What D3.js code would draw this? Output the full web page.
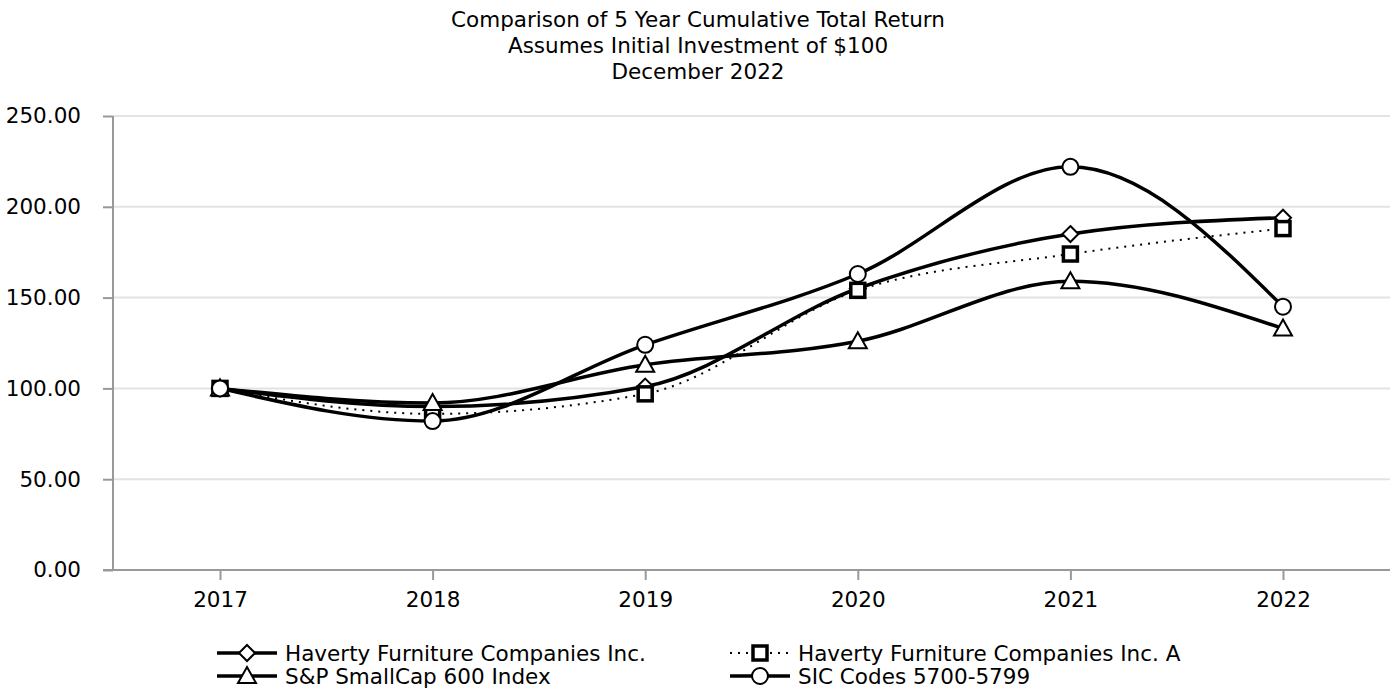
<!DOCTYPE html>
<html>
<head>
<meta charset="utf-8">
<script src="https://cdn.jsdelivr.net/npm/d3@7"></script>
<style>
  body { margin: 0; background: #fff; }
  text { font-family: "DejaVu Sans", Verdana, sans-serif; fill: #000; }
</style>
</head>
<body>
<script>
// chart values
var years = ["2017", "2018", "2019", "2020", "2021", "2022"];
var haverty = [100, 90, 101, 155, 185, 194];
var havertyA = [100, 86, 97, 154, 174, 188];
var smallcap = [100, 92, 113, 126, 159, 133];
var sicCodes = [100, 82, 124, 163, 222, 145];
var yTicks = [0, 50, 100, 150, 200, 250];
var titleLines = ["Comparison of 5 Year Cumulative Total Return",
                  "Assumes Initial Investment of $100",
                  "December 2022"];

var seriesNames = ["Haverty Furniture Companies Inc.", "Haverty Furniture Companies Inc. A",
                   "S&P SmallCap 600 Index", "SIC Codes 5700-5799"];
var seriesValues = [haverty, havertyA, smallcap, sicCodes];
var seriesMarker = ["diamond", "square", "triangle", "circle"];
var seriesDotted = [false, true, false, false];

var W = 1400, H = 700;
var fontSize = 21.5;
var svg = d3.select("body").append("svg")
  .attr("width", W).attr("height", H);

// scales
var x = d3.scalePoint().domain(years).range([220, 1283]);
var y = d3.scaleLinear().domain([0, 250]).range([570, 116]);
var axisLeft = 113, axisRight = 1390;

// title
svg.selectAll(".title").data(titleLines).enter().append("text")
  .attr("x", 698)
  .attr("y", function(d, i) { return 27 + i * 26; })
  .attr("text-anchor", "middle")
  .attr("font-size", fontSize)
  .text(function(d) { return d; });

// gridlines
svg.selectAll(".grid").data(yTicks.slice(1)).enter().append("line")
  .attr("x1", axisLeft).attr("x2", axisRight)
  .attr("y1", function(d) { return y(d); })
  .attr("y2", function(d) { return y(d); })
  .attr("stroke", "#e3e3e3").attr("stroke-width", 2);

// y axis
var yAxis = svg.append("g")
  .attr("transform", "translate(" + axisLeft + ",0)")
  .call(d3.axisLeft(y).tickValues(yTicks).tickSize(10).tickSizeOuter(0)
    .tickFormat(d3.format(".2f")));
yAxis.select(".domain").remove();
yAxis.selectAll("line").attr("stroke", "#999").attr("stroke-width", 2);
yAxis.selectAll("text").attr("font-size", fontSize).attr("x", -32)
  .attr("font-family", "DejaVu Sans, Verdana, sans-serif").attr("fill", "#000");
svg.append("line")
  .attr("x1", axisLeft).attr("x2", axisLeft)
  .attr("y1", y(250)).attr("y2", y(0))
  .attr("stroke", "#999").attr("stroke-width", 2);

// x axis
var xAxis = svg.append("g")
  .attr("transform", "translate(0," + y(0) + ")")
  .call(d3.axisBottom(x).tickSize(10).tickSizeOuter(0));
xAxis.select(".domain").remove();
xAxis.selectAll("line").attr("stroke", "#999").attr("stroke-width", 2);
xAxis.selectAll("text").attr("font-size", fontSize).attr("y", 37).attr("dy", 0)
  .attr("font-family", "DejaVu Sans, Verdana, sans-serif").attr("fill", "#000");
svg.append("line")
  .attr("x1", axisLeft - 10).attr("x2", axisRight)
  .attr("y1", y(0)).attr("y2", y(0))
  .attr("stroke", "#999").attr("stroke-width", 2);

// marker drawing
function drawMarker(g, type, cx, cy) {
  if (type == "circle") {
    g.append("circle").attr("cx", cx).attr("cy", cy).attr("r", 8)
      .attr("fill", "#fff").attr("stroke", "#000").attr("stroke-width", 2);
  } else if (type == "square") {
    g.append("rect").attr("x", cx - 7).attr("y", cy - 7).attr("width", 14).attr("height", 14)
      .attr("fill", "#fff").attr("stroke", "#000").attr("stroke-width", 3.5);
  } else if (type == "triangle") {
    g.append("path")
      .attr("d", "M" + cx + "," + (cy - 9) + "L" + (cx + 9) + "," + (cy + 7) + "L" + (cx - 9) + "," + (cy + 7) + "Z")
      .attr("fill", "#fff").attr("stroke", "#000").attr("stroke-width", 2);
  } else {
    g.append("path")
      .attr("d", "M" + cx + "," + (cy - 8) + "L" + (cx + 8) + "," + cy + "L" + cx + "," + (cy + 8) + "L" + (cx - 8) + "," + cy + "Z")
      .attr("fill", "#fff").attr("stroke", "#000").attr("stroke-width", 2);
  }
}

var line = d3.line()
  .x(function(d, i) { return x(years[i]); })
  .y(function(d) { return y(d); })
  .curve(d3.curveMonotoneX);

// lines first, then markers (legend order, circle on top)
for (var s = 0; s < seriesValues.length; s++) {
  var path = svg.append("path")
    .datum(seriesValues[s])
    .attr("d", line)
    .attr("fill", "none")
    .attr("stroke", "#000");
  if (seriesDotted[s]) {
    path.attr("stroke-width", 2).attr("stroke-dasharray", "2,6");
  } else {
    path.attr("stroke-width", 3.5);
  }
}
for (var s = 0; s < seriesValues.length; s++) {
  var mg = svg.append("g");
  seriesValues[s].forEach(function(v, i) {
    drawMarker(mg, seriesMarker[s], x(years[i]), y(v));
  });
}

// legend
var legendX = [217, 730, 217, 730];
var legendY = [653, 653, 676, 676];
for (var s = 0; s < seriesNames.length; s++) {
  var lg = svg.append("g");
  var ll = lg.append("line")
    .attr("x1", legendX[s]).attr("x2", legendX[s] + 60)
    .attr("y1", legendY[s]).attr("y2", legendY[s])
    .attr("stroke", "#000");
  if (seriesDotted[s]) {
    ll.attr("stroke-width", 2).attr("stroke-dasharray", "2,6");
  } else {
    ll.attr("stroke-width", 3.5);
  }
  drawMarker(lg, seriesMarker[s], legendX[s] + 30, legendY[s]);
  lg.append("text")
    .attr("x", legendX[s] + 68)
    .attr("y", legendY[s] + 8)
    .attr("font-size", fontSize)
    .text(seriesNames[s]);
}
</script>
</body>
</html>
